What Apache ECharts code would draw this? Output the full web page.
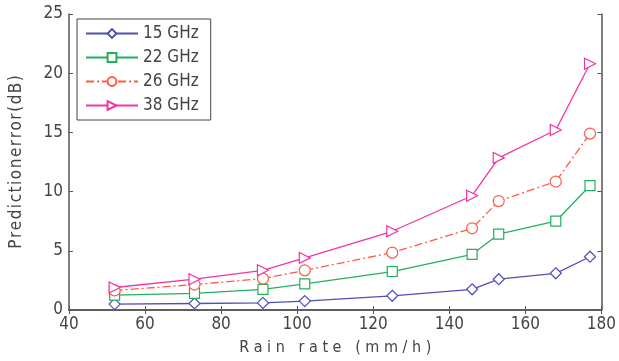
<!DOCTYPE html>
<html>
<head>
<meta charset="utf-8">
<script src="https://cdn.jsdelivr.net/npm/echarts@6/dist/echarts.min.js"></script>
<style>
  html, body { margin: 0; padding: 0; background: #fff; }
  #chart { width: 619px; height: 361px; }
</style>
</head>
<body>
<div id="chart"></div>
<script>
const rainRate = [52, 73, 91, 102, 125, 146, 153, 168, 177];
const ghz15 = [0.5, 0.55, 0.6, 0.75, 1.2, 1.75, 2.6, 3.1, 4.5];
const ghz22 = [1.25, 1.4, 1.75, 2.2, 3.25, 4.7, 6.4, 7.5, 10.5];
const ghz26 = [1.65, 2.15, 2.65, 3.35, 4.85, 6.9, 9.2, 10.85, 14.9];
const ghz38 = [1.9, 2.6, 3.35, 4.4, 6.65, 9.65, 12.85, 15.2, 20.8];
const seriesNames = ["15 GHz", "22 GHz", "26 GHz", "38 GHz"];

const font = "'Liberation Sans Narrow', 'DejaVu Sans Condensed', 'Liberation Sans', sans-serif";
const axisColor = "#555";

const pair = (ys) => rainRate.map((x, i) => [x, ys[i]]);
// spread letters a little, like the scanned axis title
const spaced = (s) => s.split("").join("\u200A");

function line(name, ys, color, symbol, extra) {
  return Object.assign({
    name,
    type: "line",
    data: pair(ys),
    symbol,
    symbolSize: 11,
    lineStyle: { color, width: 1.3 },
    itemStyle: { color: "#fff", borderColor: color, borderWidth: 1.2 },
    emphasis: { disabled: true },
    z: 3
  }, extra || {});
}

const chart = echarts.init(document.getElementById("chart"));
chart.setOption({
  animation: false,
  textStyle: { fontFamily: font },
  grid: { left: 68, right: 12, top: 14, bottom: 48 },
  legend: {
    left: 77,
    top: 19,
    orient: "vertical",
    itemWidth: 52,
    itemHeight: 11,
    itemGap: 7,
    padding: [6, 12, 6, 8],
    borderColor: "#444",
    borderWidth: 1,
    backgroundColor: "#fff",
    textStyle: { fontSize: 17, color: "#444", fontFamily: font },
    data: seriesNames
  },
  xAxis: [{
    type: "value",
    min: 40, max: 180, interval: 20,
    name: "R a i n   r a t e   ( m m / h )",
    nameLocation: "middle",
    nameGap: 30,
    nameTextStyle: { fontSize: 16, color: "#444", fontFamily: font },
    axisLine: { onZero: false, lineStyle: { color: axisColor, width: 1.5 } },
    axisTick: { inside: true, length: 4, lineStyle: { color: axisColor } },
    axisLabel: { fontSize: 17, color: "#444", margin: 6 },
    splitLine: { show: false }
  }, {
    type: "value",
    position: "top",
    min: 40, max: 180, interval: 20,
    axisLine: { lineStyle: { color: axisColor, width: 1.5 } },
    axisTick: { inside: true, length: 4, lineStyle: { color: axisColor } },
    axisLabel: { show: false },
    splitLine: { show: false }
  }],
  yAxis: [{
    type: "value",
    min: 0, max: 25, interval: 5,
    name: spaced("Predictionerror(dB)"),
    nameLocation: "middle",
    nameGap: 44,
    nameTextStyle: { fontSize: 17, color: "#444", fontFamily: font },
    axisLine: { show: true, lineStyle: { color: axisColor, width: 1.5 } },
    axisTick: { show: true, inside: true, length: 4, lineStyle: { color: axisColor } },
    axisLabel: { fontSize: 17, color: "#444", margin: 6 },
    splitLine: { show: false }
  }, {
    type: "value",
    position: "right",
    min: 0, max: 25, interval: 5,
    axisLine: { show: true, lineStyle: { color: axisColor, width: 1.5 } },
    axisTick: { show: true, inside: true, length: 4, lineStyle: { color: axisColor } },
    axisLabel: { show: false },
    splitLine: { show: false }
  }],
  series: [
    line(seriesNames[0], ghz15, "#4f4fb8", "diamond"),
    line(seriesNames[1], ghz22, "#22b060", "rect", { symbolSize: 10 }),
    line(seriesNames[2], ghz26, "#ff5a45", "circle",
      { lineStyle: { color: "#ff5a45", width: 1.3, type: [8, 3, 2, 3] } }),
    line(seriesNames[3], ghz38, "#f035a5", "triangle", { symbolRotate: -90 })
  ]
});
</script>
</body>
</html>
